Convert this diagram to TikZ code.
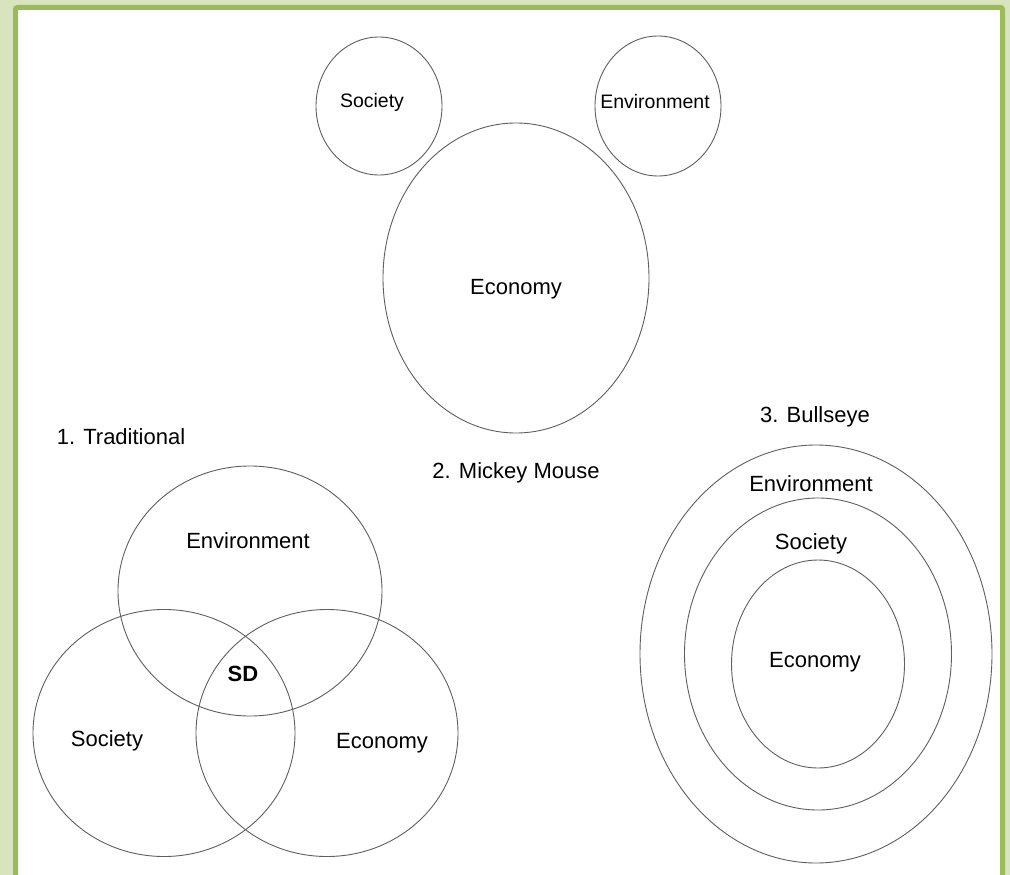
\documentclass[tikz,border=0pt]{standalone}
\usepackage{fontspec}
\setmainfont{Liberation Sans}
\usetikzlibrary{positioning,shapes.geometric}
\definecolor{pagegreen}{RGB}{216,228,190}
\definecolor{framegreen}{RGB}{155,187,89}
\definecolor{ringgray}{RGB}{95,95,95}

\begin{document}
\begin{tikzpicture}[x=1pt, y=-1pt,
		ring/.style={ellipse, draw=ringgray, line width=0.9pt, inner sep=0pt},
		lbl/.style={font=\fontsize{22}{26}\selectfont, text=black, inner sep=1pt},
		small/.style={font=\fontsize{19.5}{23}\selectfont, text=black, inner sep=1pt}]
		\useasboundingbox (0,0) rectangle (1010,875);
		\clip (0,0) rectangle (1010,875);
		\fill [pagegreen] (0,0) rectangle (1010,875);
		\draw [framegreen, line width=5pt, fill=white, rounded corners=2pt] (15.5,7.5) rectangle (1002.5,900);

		% 2. Mickey Mouse
		\node [ring, minimum width=126, minimum height=138] (mSoc) at (379,106) {};
		\node [ring, minimum width=126, minimum height=140] (mEnv) at (658,106) {};
		\node [ring, minimum width=266, minimum height=310] (mEco) at (516,278) {};
		\node [small] (mSocT) at (372,102) {Society};
		\node [small] (mEnvT) at (655,102) {Environment};
		\node [lbl] (mEcoT) at (516,289) {Economy};
		\node [lbl, below=28pt of mEco] (tMickey) {2. Mickey Mouse};

		% 1. Traditional
		\node [ring, minimum width=264, minimum height=250] (vEnv) at (250,591) {};
		\node [ring, minimum width=262, minimum height=247] (vSoc) at (164,733) {};
		\node [ring, minimum width=262, minimum height=247] (vEco) at (327,733) {};
		\node [lbl] (tTrad) at (121,437) {1. Traditional};
		\node [lbl] (vEnvT) at (248,541) {Environment};
		\node [lbl, font=\fontsize{22}{26}\selectfont\bfseries] (vSD) at (243,674) {SD};
		\node [lbl] (vSocT) at (107,741) {Society};
		\node [lbl] (vEcoT) at (382,743) {Economy};

		% 3. Bullseye
		\node [ring, minimum width=352, minimum height=418] (bEnv) at (816,654) {};
		\node [ring, minimum width=267, minimum height=312] (bSoc) at (818,654) {};
		\node [ring, minimum width=173, minimum height=208] (bEco) at (818,664) {};
		\node [lbl] (tBull) at (815,417) {3. Bullseye};
		\node [lbl] (bEnvT) at (811,484) {Environment};
		\node [lbl] (bSocT) at (811,544) {Society};
		\node [lbl] (bEcoT) at (815,662) {Economy};
	\end{tikzpicture}
\end{document}
